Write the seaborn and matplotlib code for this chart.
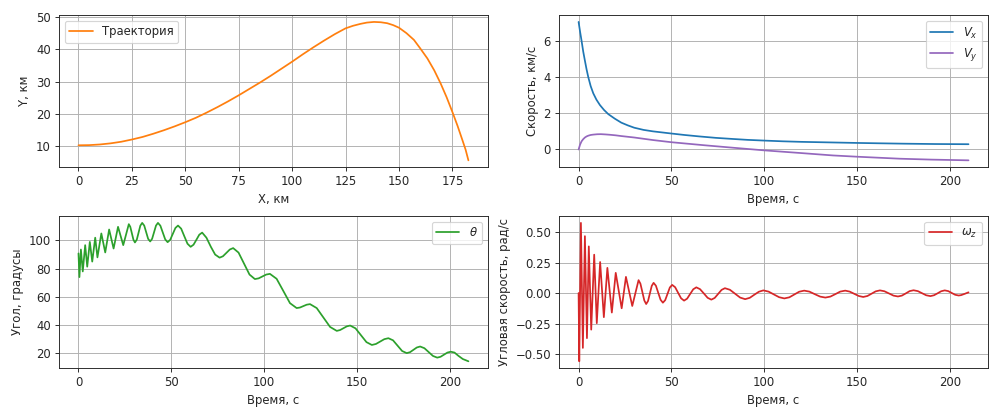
import numpy as np
import matplotlib
matplotlib.use("Agg")
import matplotlib.pyplot as plt
import seaborn as sns

# trajectory, km
x_km = [0, 5, 10, 15, 20, 25, 30, 35, 40, 45, 50, 55, 60, 65, 70, 75, 80, 85, 90, 95,
        100, 105, 110, 115, 120, 125, 128.5, 132, 135, 138.3, 141.5, 144.5, 147.3,
        150, 153.5, 157, 160, 163.3, 166.5, 169.5, 172.3, 175, 177.4, 179.7, 181.2,
        182.5]
y_km = [10.1, 10.15, 10.35, 10.7, 11.2, 11.9, 12.7, 13.7, 14.8, 16.0, 17.3, 18.7,
        20.3, 22.0, 23.8, 25.7, 27.7, 29.7, 31.8, 34.0, 36.2, 38.5, 40.7, 42.8, 44.8,
        46.6, 47.4, 48.0, 48.4, 48.6, 48.5, 48.2, 47.6, 46.8, 45.1, 43.0, 40.3, 37.2,
        33.5, 29.4, 25.1, 20.5, 16.2, 11.7, 8.7, 5.4]

# velocities, km/s
t_vx = [0, 0.8, 1.6, 2.5, 3.4, 4.3, 5.2, 6.5, 7.9, 9.6, 11.5, 13.7, 16, 19.5, 23,
        26.5, 30, 35, 40, 45, 50, 57, 65, 74, 83, 91, 100, 110, 120, 135, 150, 162,
        175, 192, 210]
vx = [7.04, 6.5, 6.0, 5.4, 4.9, 4.42, 4.0, 3.5, 3.1, 2.75, 2.45, 2.18, 1.95, 1.7,
      1.48, 1.33, 1.2, 1.08, 1.0, 0.94, 0.88, 0.80, 0.72, 0.64, 0.58, 0.53, 0.49,
      0.45, 0.42, 0.39, 0.36, 0.34, 0.32, 0.30, 0.29]
t_vy = [0, 0.8, 1.6, 2.5, 3.4, 4.3, 5.2, 6.5, 7.9, 10, 12, 14.5, 17, 20, 23, 30, 40,
        50, 68, 85, 100, 120, 137, 150, 173, 190, 210]
vy = [0, 0.27, 0.45, 0.57, 0.66, 0.72, 0.76, 0.8, 0.82, 0.84, 0.845, 0.83, 0.81,
      0.78, 0.74, 0.66, 0.52, 0.4, 0.23, 0.08, -0.05, -0.2, -0.33, -0.4, -0.51,
      -0.56, -0.6]

# pitch angle, degrees
t_theta = [0, 0.5, 1.3, 2.3, 3.6, 4.7, 6.1, 7.4, 9.0, 10.2, 12.3, 14.4, 16.5, 18.9,
           21.3, 24.1, 27.1, 27.9, 28.75, 29.6, 30.4, 31.4, 32.35, 33.3, 34.3, 35.4,
           36.45, 37.5, 38.6, 39.65, 40.7, 41.75, 42.8, 44.1, 45.4, 46.7, 48.0, 49.4,
           50.8, 52.2, 53.6, 55.3, 57.0, 58.7, 60.4, 61.95, 63.5, 65.05, 66.6, 68.9,
           71.3, 73.6, 76.0, 77.8, 79.65, 81.5, 83.3, 86.2, 89.15, 92.1, 95.0, 97.0,
           99.05, 101.1, 103.1, 106.7, 110.3, 113.9, 117.5, 119.3, 121.1, 122.9,
           124.7, 128.3, 131.9, 135.5, 139.1, 140.9, 142.7, 144.5, 146.3, 149.2,
           152.15, 155.1, 158.0, 160.2, 162.45, 164.7, 166.9, 169.4, 171.85, 174.3,
           176.8, 178.6, 180.4, 182.2, 184.0, 186.3, 188.6, 190.9, 193.2, 195.0,
           196.85, 198.7, 200.5, 202.5, 204.6, 207.0, 210]
theta = [90.8, 74, 93.6, 78, 96.7, 81.4, 99, 85, 102, 88, 105, 91.5, 107.8, 94.3,
         109.7, 96.7, 111.6, 109.7, 105.1, 100.5, 98.6, 100.6, 105.55, 110.5, 112.5,
         110.6, 105.9, 101.2, 99.3, 101.2, 105.9, 110.6, 112.5, 110.5, 105.65, 100.8,
         98.8, 100.5, 104.7, 108.9, 110.6, 108.4, 103, 97.7, 95.5, 97, 100.5, 104.1,
         105.6, 102.0, 95.5, 90.0, 87.8, 88.8, 91.2, 93.6, 94.6, 91.4, 83.6, 75.8,
         72.6, 73.1, 74.45, 75.8, 76.3, 72.8, 64.2, 55.5, 52, 52.4, 53.4, 54.4,
         54.8, 52, 45.3, 38.6, 35.8, 36.4, 37.7, 39.0, 39.6, 37.6,
         32.7, 27.8, 25.8, 26.5, 28.2, 29.9, 30.6, 29.1, 25.3, 21.5,
         20, 20.7, 22.35, 24.0, 24.7, 23.5, 20.75, 18.0, 16.8, 17.4,
         18.9, 20.4, 21, 20.4, 18.1, 15.8, 14.2]

# pitch rate, rad/s
t_omega = [0, 0.36, 1.25, 2.3, 3.4, 4.5, 5.5, 6.8, 8.4, 9.8, 11.6, 13.6, 15.5, 17.9,
           20.0, 23.2, 25.5, 28.9, 32.3, 33.3, 34.35, 35.4, 36.4, 37.4, 38.4, 39.4,
           40.4, 41.65, 42.9, 44.15, 45.4, 46.65, 47.9, 49.15, 50.4, 52.0, 53.6, 55.2,
           56.8, 58.45, 60.1, 61.75, 63.4, 65.4, 67.45, 69.5, 71.5, 73.3, 75.15, 77.0,
           78.8, 81.5, 84.25, 87.0, 89.7, 92.2, 94.6, 97.1, 99.5, 102.3, 105.15,
           108.0, 110.8, 113.5, 116.15, 118.8, 121.5, 124.3, 127.2, 130.1, 132.9,
           135.6, 138.25, 140.9, 143.6, 146.0, 148.45, 150.9, 153.3, 155.55, 157.8,
           160.0, 162.3, 164.7, 167.15, 169.6, 172.0, 174.1, 176.2, 178.3, 180.4,
           182.7, 184.95, 187.2, 189.5, 191.4, 193.35, 195.3, 197.2, 199.1, 200.95,
           202.8, 204.7, 206.0, 208.0, 210]
omega = [0, -0.56, 0.576, -0.45, 0.467, -0.37, 0.383, -0.30, 0.315, -0.247, 0.255,
         -0.198, 0.207, -0.16, 0.166, -0.125, 0.133, -0.106, 0.106, 0.077, 0.008,
         -0.061, -0.09, -0.065, -0.003, 0.059, 0.084, 0.06, 0.002, -0.055, -0.079,
         -0.058, -0.006, 0.046, 0.067, 0.048, 0.002, -0.043, -0.062, -0.046, -0.007,
         0.031, 0.047, 0.032, -0.003, -0.039, -0.054, -0.04, -0.007, 0.026, 0.04,
         0.027, -0.005, -0.037, -0.05, -0.039, -0.014, 0.011, 0.022, 0.012, -0.011,
         -0.034, -0.044, -0.035, -0.012, 0.011, 0.02, 0.012, -0.009, -0.029, -0.037,
         -0.029, -0.009, 0.012, 0.02, 0.012, -0.006, -0.024, -0.032, -0.024, -0.005,
         0.014, 0.022, 0.015, -0.003, -0.021, -0.028, -0.021, -0.003, 0.016, 0.023,
         0.016, -0.001, -0.018, -0.025, -0.018, -0.002, 0.015, 0.022, 0.016, 0.001,
         -0.014, -0.02, -0.017, -0.006, 0.006]

sns.set_style("ticks")
plt.rcParams['font.family'] = ['DejaVu Sans']
plt.rcParams['font.size'] = 10

dpi = 1000 / 12
fig, axes = plt.subplots(2, 2, figsize=(12, 417 / dpi), dpi=dpi)
fig.subplots_adjust(left=0.059, right=0.988, bottom=0.117, top=0.964,
                    wspace=0.166, hspace=0.32)

ax = axes[0, 0]
sns.lineplot(x=x_km, y=y_km, ax=ax, color='#ff7f0e', label='Траектория',
             sort=False, estimator=None)
ax.set_xlabel('X, км')
ax.set_ylabel('Y, км')
ax.legend(loc='upper left')

ax = axes[0, 1]
sns.lineplot(x=t_vx, y=vx, ax=ax, color='#1f77b4', label='$V_x$', estimator=None)
sns.lineplot(x=t_vy, y=vy, ax=ax, color='#9467bd', label='$V_y$', estimator=None)
ax.set_xlabel('Время, с')
ax.set_ylabel('Скорость, км/с')
ax.legend(loc='upper right')

ax = axes[1, 0]
sns.lineplot(x=t_theta, y=theta, ax=ax, color='#2ca02c', label=r'$\theta$',
             estimator=None)
ax.set_xlabel('Время, с')
ax.set_ylabel('Угол, градусы')
ax.set_yticks([20, 40, 60, 80, 100])
ax.legend(loc='upper right')

ax = axes[1, 1]
sns.lineplot(x=t_omega, y=omega, ax=ax, color='#d62728', label=r'$\omega_z$',
             estimator=None)
ax.set_xlabel('Время, с')
ax.set_ylabel('Угловая скорость, рад/с')
ax.legend(loc='upper right')

for ax in axes.flat:
    ax.grid(True, color='#b0b0b0', linewidth=0.8)
    ax.margins(x=0.05, y=0.05)
    for s in ax.spines.values():
        s.set_color('#262626')

plt.savefig('out.png', dpi=dpi)
